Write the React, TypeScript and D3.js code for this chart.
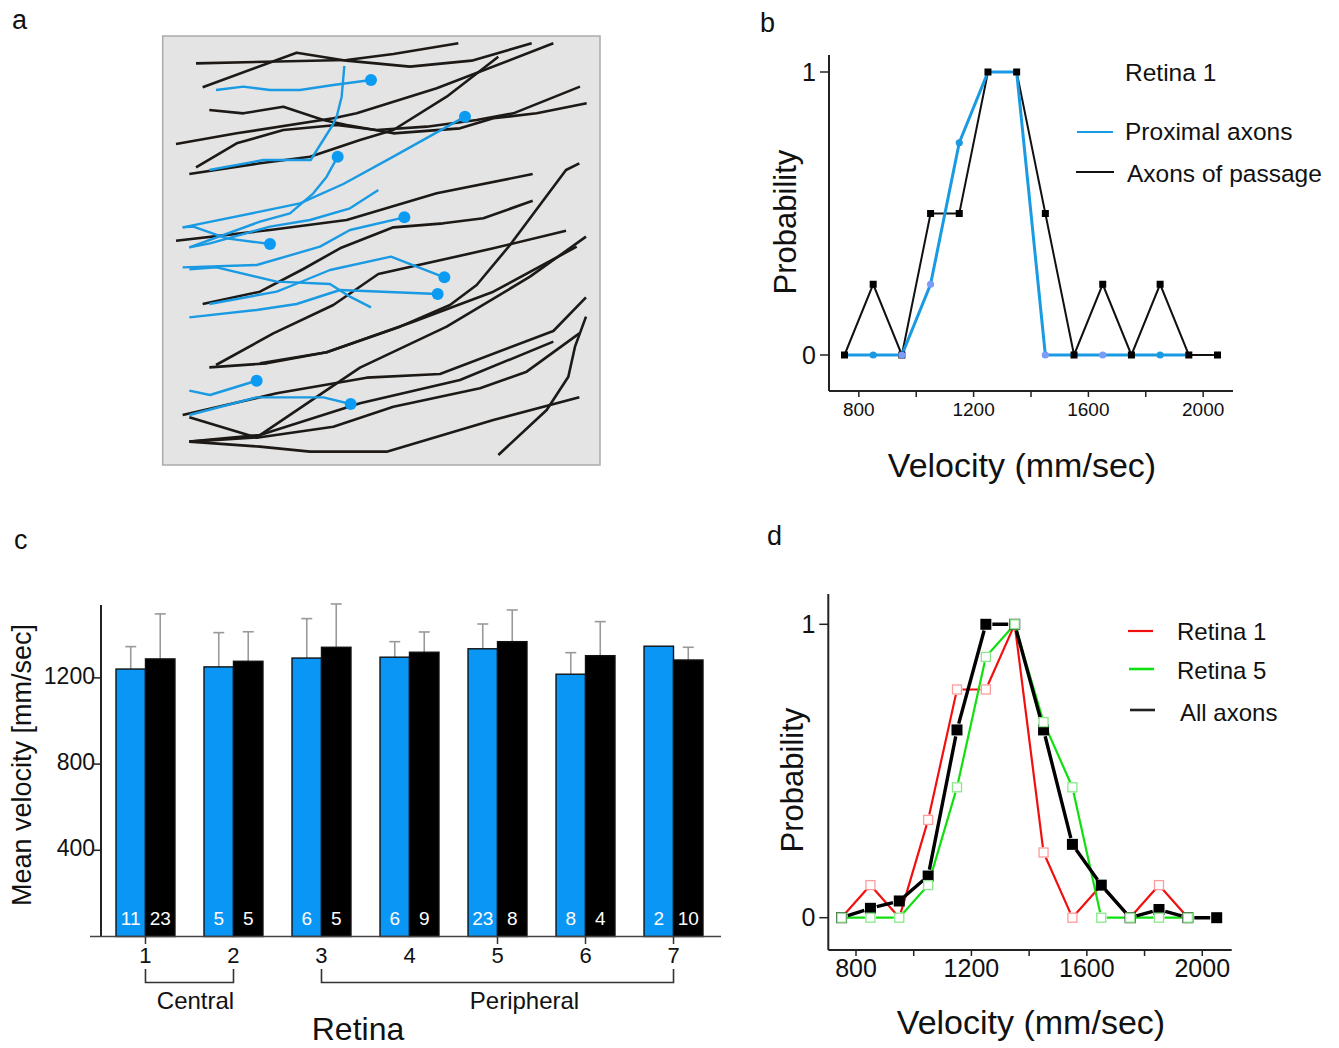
import React from "react";
import * as d3 from "d3";

const FONT = "'Liberation Sans', Arial, sans-serif";

// ---- panel a: axon traces, sketch units (0..1320 both ways) ----
const passageTraces = [
  [[108, 100], [560, 90], [700, 72], [895, 40]],
  [[128, 172], [410, 68], [560, 92], [750, 110], [935, 92], [1115, 40]],
  [[148, 240], [250, 250], [370, 230], [490, 270], [560, 285], [700, 310], [900, 295], [1000, 265], [1130, 250], [1280, 220]],
  [[48, 342], [230, 310], [520, 265], [590, 250], [830, 175], [1180, 40]],
  [[108, 412], [230, 340], [370, 300], [530, 285], [650, 300], [800, 290], [950, 270], [1060, 250], [1260, 170]],
  [[88, 432], [300, 400], [450, 380], [600, 330], [700, 300], [860, 200], [1015, 80]],
  [[48, 632], [330, 600], [560, 570], [830, 490], [1118, 432]],
  [[128, 822], [300, 785], [430, 717], [540, 655], [700, 592], [850, 580], [970, 565], [1118, 512]],
  [[168, 1005], [340, 910], [520, 825], [655, 732], [1000, 655], [1218, 602]],
  [[148, 1012], [320, 1000], [500, 967], [720, 890], [870, 825], [950, 765], [1050, 645], [1218, 420], [1258, 400]],
  [[300, 1000], [500, 967], [760, 875], [1000, 785], [1250, 650]],
  [[68, 1155], [350, 1090], [620, 1043], [840, 1032], [1180, 903], [1278, 802]],
  [[88, 1235], [300, 1215], [600, 1120], [900, 1050], [1180, 935]],
  [[88, 1162], [290, 1223], [520, 1190], [700, 1130], [960, 1075], [1100, 1025], [1258, 910]],
  [[88, 1235], [300, 1250], [450, 1265], [680, 1265], [1000, 1170], [1258, 1102]],
  [[1015, 1275], [1160, 1140], [1225, 1040], [1245, 950], [1278, 860]],
  [[88, 1235], [290, 1222], [600, 1013], [860, 890], [1110, 740], [1278, 620]],
];

// first point is the soma when hasSoma is true
const proximalTraces = [
  [[633, 150], [520, 165], [420, 180], [330, 180], [250, 170], [168, 180]],
  [[553, 108], [545, 200], [530, 260], [518, 285], [452, 390], [310, 390], [148, 420]],
  [[533, 380], [500, 440], [460, 490], [390, 550], [300, 575], [88, 652]],
  [[915, 260], [700, 380], [550, 462], [420, 520], [300, 545], [68, 592]],
  [[655, 480], [570, 535], [450, 570], [330, 590], [150, 640], [88, 652]],
  [[330, 642], [200, 625], [100, 590], [68, 592]],
  [[733, 562], [570, 600], [480, 650], [290, 705], [68, 712]],
  [[853, 742], [693, 680], [510, 720], [400, 765], [350, 785], [148, 822]],
  [[833, 792], [540, 780], [410, 822], [290, 840], [88, 862]],
  [[633, 832], [570, 800], [510, 762], [350, 755], [170, 712], [88, 718]],
  [[290, 1052], [150, 1095], [88, 1082]],
  [[572, 1122], [490, 1102], [290, 1102], [88, 1155]],
];
const hasSoma = [true, false, true, true, false, true, true, true, true, false, true, true];

// ---- panel b: Retina 1 velocity distributions ----
const bins = [750, 850, 950, 1050, 1150, 1250, 1350, 1450, 1550, 1650, 1750, 1850, 1950, 2050];
const proximalProb = [0, 0, 0, 0.25, 0.75, 1, 1, 0, 0, 0, 0, 0, 0];
const passageProb = [0, 0.25, 0, 0.5, 0.5, 1, 1, 0.5, 0, 0.25, 0, 0.25, 0, 0];
const lavenderBins = [950, 1050, 1450, 1650];

// ---- panel c: mean velocity per retina ----
const retinas = ["1", "2", "3", "4", "5", "6", "7"];
const proximalMean = [1241, 1251, 1292, 1296, 1335, 1217, 1347];
const proximalSD = [104, 159, 183, 72, 115, 100, 0];
const passageMean = [1288, 1277, 1342, 1319, 1368, 1303, 1283];
const passageSD = [209, 137, 201, 94, 147, 158, 59];
const proximalN = [11, 5, 6, 6, 23, 8, 2];
const passageN = [23, 5, 5, 9, 8, 4, 10];
const velocityTicks = [400, 800, 1200];
const tickedRetinas = ["1", "5", "6", "7"];
const groups = [
  { label: "Central", from: "1", to: "2" },
  { label: "Peripheral", from: "3", to: "7" },
];

// ---- panel d: per-retina and pooled distributions ----
const retina1Prob = [0, 1 / 9, 0, 3 / 9, 7 / 9, 7 / 9, 1, 2 / 9, 0, 1 / 9, 0, 1 / 9, 0];
const retina5Prob = [0, 0, 0, 1 / 9, 4 / 9, 8 / 9, 1, 6 / 9, 4 / 9, 0, 0, 0, 0];
const allAxonsProb = [0, 0.032, 0.057, 0.142, 0.64, 1, 1, 0.64, 0.25, 0.111, 0, 0.028, 0, 0];

const BLUE = "#1a9ae2";
const BAR_BLUE = "#0a96f5";

function gapSegments(pts: [number, number][], gap: number) {
  const segs: string[] = [];
  for (let i = 0; i < pts.length - 1; i++) {
    const [x0, y0] = pts[i];
    const [x1, y1] = pts[i + 1];
    const len = Math.hypot(x1 - x0, y1 - y0);
    if (len <= gap * 2) continue;
    const ux = (x1 - x0) / len, uy = (y1 - y0) / len;
    segs.push(`M${x0 + ux * gap},${y0 + uy * gap}L${x1 - ux * gap},${y1 - uy * gap}`);
  }
  return segs.join("");
}

function PanelA() {
  const sx = d3.scaleLinear().domain([0, 1320]).range([160, 600]);
  const sy = d3.scaleLinear().domain([0, 1320]).range([30, 470]);
  const line = d3.line<number[]>().x((d) => sx(d[0])).y((d) => sy(d[1]));
  return (
    <g>
      <rect x={sx(8)} y={sy(18)} width={sx(1320) - sx(8)} height={sy(1305) - sy(18)} fill="#e4e4e4" stroke="#ababab" strokeWidth={1.5} />
      {passageTraces.map((t, i) => (
        <path key={"p" + i} d={line(t) || ""} fill="none" stroke="#1c1916" strokeWidth={2.6} strokeLinejoin="round" />
      ))}
      {proximalTraces.map((t, i) => (
        <path key={"b" + i} d={line(t) || ""} fill="none" stroke={BLUE} strokeWidth={2.4} strokeLinejoin="round" />
      ))}
      {proximalTraces.map((t, i) =>
        hasSoma[i] ? <circle key={"s" + i} cx={sx(t[0][0])} cy={sy(t[0][1])} r={6} fill="#0b9bf2" /> : null
      )}
    </g>
  );
}

function ProbAxes({ x, y, top, bottom, left, right, tickSize, yLabelX, yLabelY, xLabelX, xLabelY }: any) {
  return (
    <g fontFamily={FONT} fill="#111">
      <line x1={left} x2={left} y1={top} y2={bottom} stroke="#222" strokeWidth={2} />
      <line x1={left} x2={right} y1={bottom} y2={bottom} stroke="#222" strokeWidth={2} />
      {[0, 1].map((v) => (
        <g key={v}>
          <line x1={left - 9} x2={left} y1={y(v)} y2={y(v)} stroke="#222" strokeWidth={1.5} />
          <text x={left - 13} y={y(v)} dy="0.35em" textAnchor="end" fontSize={25}>{v}</text>
        </g>
      ))}
      {[800, 1000, 1200, 1400, 1600, 1800, 2000].map((v) => (
        <line key={v} x1={x(v)} x2={x(v)} y1={bottom} y2={bottom + 6} stroke="#222" strokeWidth={1.5} />
      ))}
      {[800, 1200, 1600, 2000].map((v) => (
        <text key={v} x={x(v)} y={bottom + 18} dy="0.35em" textAnchor="middle" fontSize={tickSize}>{v}</text>
      ))}
      <text transform={`translate(${yLabelX},${yLabelY}) rotate(-90)`} textAnchor="middle" dy="0.35em" fontSize={31}>Probability</text>
      <text x={xLabelX} y={xLabelY} dy="0.35em" textAnchor="middle" fontSize={34}>Velocity (mm/sec)</text>
    </g>
  );
}

function PanelB() {
  const x = d3.scaleLinear().domain([696, 2104]).range([829, 1233]);
  const y = d3.scaleLinear().domain([0, 1]).range([355, 72]);
  const line = d3.line<number>().x((_, i) => x(bins[i])).y((d) => y(d));
  return (
    <g>
      <ProbAxes x={x} y={y} top={55} bottom={391} left={829} right={1233} tickSize={19} yLabelX={785} yLabelY={222} xLabelX={1022} xLabelY={465} />
      <path d={line(passageProb) || ""} fill="none" stroke="#111" strokeWidth={2} />
      <path d={line(proximalProb) || ""} fill="none" stroke={BLUE} strokeWidth={3} />
      {passageProb.map((d, i) => (
        <rect key={"q" + i} x={x(bins[i]) - 3.5} y={y(d) - 3.5} width={7} height={7} fill="#000" />
      ))}
      {proximalProb.map((d, i) =>
        proximalProb[i] === passageProb[i] && (d === 1 || bins[i] === 1550 || bins[i] === 1750 || bins[i] === 1950 || bins[i] === 750) ? null : (
          <circle key={"c" + i} cx={x(bins[i])} cy={y(d)} r={3.6} fill={lavenderBins.includes(bins[i]) ? "#7d9cf7" : BLUE} />
        )
      )}
      <g fontFamily={FONT} fontSize={24.5} fill="#111">
        <text x={1125} y={72} dy="0.35em">Retina 1</text>
        <line x1={1077} x2={1113} y1={132} y2={132} stroke={BLUE} strokeWidth={2} />
        <text x={1125} y={131} dy="0.35em">Proximal axons</text>
        <line x1={1076} x2={1114} y1={172} y2={172} stroke="#111" strokeWidth={2} />
        <text x={1127} y={173} dy="0.35em">Axons of passage</text>
      </g>
    </g>
  );
}

function PanelC() {
  const y = d3.scaleLinear().domain([0, 1540]).range([936.5, 604.6]);
  const x = d3.scaleBand().domain(retinas).range([116, 703]).paddingInner(0.33).paddingOuter(0);
  const sub = d3.scaleBand().domain(["proximal", "passage"]).range([0, x.bandwidth()]);
  const center = (r: string) => (x(r) as number) + x.bandwidth() / 2;
  const series = [
    { key: "proximal", mean: proximalMean, sd: proximalSD, n: proximalN, fill: BAR_BLUE },
    { key: "passage", mean: passageMean, sd: passageSD, n: passageN, fill: "#000" },
  ];
  const bw = sub.bandwidth();
  const labelShift: Record<string, number> = { Central: 6, Peripheral: 27 };
  return (
    <g fontFamily={FONT}>
      {series.map((s) =>
        retinas.map((r, i) => {
          const bx = (x(r) as number) + (sub(s.key) as number);
          const cx = bx + bw / 2;
          const top = y(s.mean[i] + s.sd[i]);
          return (
            <g key={s.key + r}>
              {s.sd[i] > 0 && (
                <g stroke="#999" strokeWidth={1.6}>
                  <line x1={cx} x2={cx} y1={y(s.mean[i])} y2={top} />
                  <line x1={cx - 5.5} x2={cx + 5.5} y1={top} y2={top} />
                </g>
              )}
              <rect x={bx} y={y(s.mean[i])} width={bw} height={y(0) - y(s.mean[i])} fill={s.fill} stroke="#111" strokeWidth={1.4} />
              <text x={cx} y={918} dy="0.35em" textAnchor="middle" fontSize={19} fill="#fff">{s.n[i]}</text>
            </g>
          );
        })
      )}
      <line x1={101} x2={101} y1={605} y2={936.5} stroke="#222" strokeWidth={2} />
      <line x1={90} x2={721} y1={936.5} y2={936.5} stroke="#444" strokeWidth={1.6} />
      {velocityTicks.map((v) => (
        <g key={v}>
          <line x1={94} x2={101} y1={y(v)} y2={y(v)} stroke="#222" strokeWidth={1.5} />
          <text x={95} y={y(v) - 2} dy="0.35em" textAnchor="end" fontSize={23} fill="#111">{v}</text>
        </g>
      ))}
      {tickedRetinas.map((r) => (
        <line key={r} x1={center(r)} x2={center(r)} y1={936.5} y2={944} stroke="#333" strokeWidth={1.5} />
      ))}
      {retinas.map((r) => (
        <text key={r} x={center(r)} y={955} dy="0.35em" textAnchor="middle" fontSize={22} fill="#111">{r}</text>
      ))}
      {groups.map((g) => (
        <g key={g.label}>
          <path d={`M${center(g.from)},969V982.5H${center(g.to)}V969`} fill="none" stroke="#333" strokeWidth={1.6} />
          <text x={(center(g.from) + center(g.to)) / 2 + labelShift[g.label]} y={1001} dy="0.35em" textAnchor="middle" fontSize={24} fill="#111">{g.label}</text>
        </g>
      ))}
      <text x={358} y={1040} textAnchor="middle" fontSize={32} fill="#111">Retina</text>
      <text transform="translate(22,765) rotate(-90)" dy="0.35em" textAnchor="middle" fontSize={27} fill="#111">Mean velocity [mm/sec]</text>
    </g>
  );
}

function PanelD() {
  const x = d3.scaleLinear().domain([704, 2102]).range([828.3, 1231.7]);
  const y = d3.scaleLinear().domain([0, 1]).range([917.7, 624.3]);
  const pts = (arr: number[]) => arr.map((d, i) => [x(bins[i]), y(d)] as [number, number]);
  const hollow = (arr: number[], color: string, k: string, skip: (i: number) => boolean) =>
    arr.map((d, i) =>
      skip(i) ? null : (
        <rect key={k + i} x={x(bins[i]) - 4.5} y={y(d) - 4.5} width={9} height={9} fill="#fff" stroke={color} strokeWidth={1.3} />
      )
    );
  return (
    <g>
      <ProbAxes x={x} y={y} top={594} bottom={950} left={828.3} right={1231.7} tickSize={25} yLabelX={792} yLabelY={780} xLabelX={1031} xLabelY={1022} />
      <path d={gapSegments(pts(retina1Prob), 5.5)} fill="none" stroke="#f01010" strokeWidth={2.2} />
      <path d={gapSegments(pts(retina5Prob), 5.5)} fill="none" stroke="#10e010" strokeWidth={2.2} />
      <path d={gapSegments(pts(allAxonsProb), 6.5)} fill="none" stroke="#000" strokeWidth={3.4} />
      {allAxonsProb.map((d, i) => (
        <rect key={"k" + i} x={x(bins[i]) - 5.5} y={y(d) - 5.5} width={11} height={11} fill="#000" />
      ))}
      {hollow(retina1Prob, "#ff9c9c", "r", (i) => retina1Prob[i] === 1 || bins[i] === 1650 || (retina1Prob[i] === 0 && retina5Prob[i] === 0))}
      {hollow(retina5Prob, "#8ae88a", "g", () => false)}
      <g fontFamily={FONT} fontSize={24} fill="#111">
        <line x1={1128} x2={1153} y1={631} y2={631} stroke="#f01010" strokeWidth={2.2} />
        <text x={1177} y={632} dy="0.35em">Retina 1</text>
        <line x1={1129} x2={1154} y1={669} y2={669} stroke="#10e010" strokeWidth={2.6} />
        <text x={1177} y={671} dy="0.35em">Retina 5</text>
        <line x1={1130} x2={1155} y1={710} y2={710} stroke="#222" strokeWidth={2.6} />
        <text x={1180} y={713} dy="0.35em">All axons</text>
      </g>
    </g>
  );
}

export default function App() {
  return (
    <div style={{ position: "absolute", left: 0, top: 0 }}>
      <svg width={1339} height={1048} style={{ display: "block", background: "#fff" }}>
        <g fontFamily={FONT} fontSize={27} fill="#111">
          <text x={12} y={29}>a</text>
          <text x={760} y={32}>b</text>
          <text x={14} y={549}>c</text>
          <text x={767} y={545}>d</text>
        </g>
        <PanelA />
        <PanelB />
        <PanelC />
        <PanelD />
      </svg>
    </div>
  );
}
